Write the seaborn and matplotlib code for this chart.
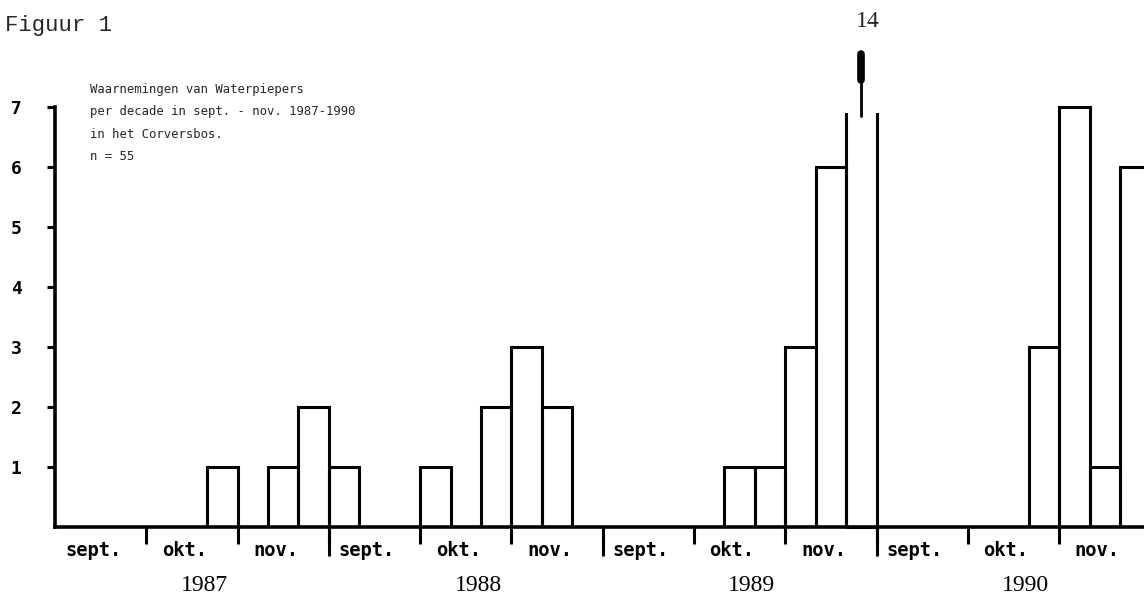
"""
Figuur 1: waarnemingen van Waterpiepers per decade (sept. - nov. 1987-1990),
Corversbos. Histogram met open staven, zoals in het getypte origineel.
"""

import matplotlib

matplotlib.use("Agg")
import matplotlib.pyplot as plt  # noqa: E402
import pandas as pd  # noqa: E402
import seaborn as sns  # noqa: E402
from matplotlib.patches import Rectangle  # noqa: E402

# --- data (aantal per decade: sept d1-d3, okt d1-d3, nov d1-d3) -----------
years = [1987, 1988, 1989, 1990]
months = ["sept.", "okt.", "nov."]
counts_1987 = [0, 0, 0, 0, 0, 1, 0, 1, 2]
counts_1988 = [1, 0, 0, 1, 0, 2, 3, 2, 0]
counts_1989 = [0, 0, 0, 0, 1, 1, 3, 6, 14]
counts_1990 = [0, 0, 0, 0, 0, 3, 7, 1, 6]
y_ticks = [1, 2, 3, 4, 5, 6, 7]
title_lines = [
    "Waarnemingen van Waterpiepers",
    "per decade in sept. - nov. 1987-1990",
    "in het Corversbos.",
    "n = 55",
]

rows = []
for year, counts in zip(years, [counts_1987, counts_1988, counts_1989, counts_1990]):
    for i, n in enumerate(counts):
        rows.append({"jaar": year, "maand": months[i // 3],
                     "decade": i % 3 + 1, "aantal": n})
df = pd.DataFrame(rows)
df["pos"] = range(len(df))

Y_MAX = 7.2      # as loopt tot 7, daarboven ruimte voor de afgebroken staaf
n_dec = len(df)
n_months = n_dec // 3

sns.set_style("ticks")
plt.rcParams["font.family"] = ["DejaVu Sans Mono", "DejaVu Sans"]

fig = plt.figure(figsize=(11.44, 6.04), dpi=100)
ax = fig.add_axes([0.0481, 0.1275, 0.9576, 0.7152])

sns.barplot(data=df, x="pos", y="aantal", fill=False, width=1.0,
            color="black", linewidth=2.2, errorbar=None, ax=ax)

ax.set_xlim(-0.5, n_dec - 0.5)
ax.set_ylim(0, Y_MAX)
ax.set_xlabel("")
ax.set_ylabel("")
sns.despine(ax=ax)
ax.spines["left"].set_bounds(0, 7)
for side in ("left", "bottom"):
    ax.spines[side].set_linewidth(2.6)
    ax.spines[side].set_color("black")

# y-as
ax.set_yticks(y_ticks)
ax.set_yticklabels([str(t) for t in y_ticks], fontweight="bold")
ax.tick_params(axis="y", length=6, width=2.2, pad=18, labelsize=13,
               colors="black")

# x-as: maandnamen in het midden, streepjes op de maandgrenzen
ax.set_xticks([3 * m + 1 - 0.25 for m in range(n_months)])
ax.set_xticklabels(months * len(years), fontweight="bold")
ax.set_xticks([3 * m - 0.5 for m in range(1, n_months)], minor=True)
ax.tick_params(axis="x", which="major", length=0, pad=10, labelsize=13.5,
               colors="black")
ax.tick_params(axis="x", which="minor", length=12, width=2.2, colors="black")

# langere streepjes op de jaargrenzen
ax.vlines([9 * k - 0.5 for k in range(1, len(years))], -0.066, 0,
          transform=ax.get_xaxis_transform(), colors="black", lw=2.2,
          clip_on=False)

for k, year in enumerate(years):
    ax.text(9 * k + 4.4, -0.135, str(year), transform=ax.get_xaxis_transform(),
            ha="center", va="center", fontsize=17, family="Liberation Serif",
            color="black")

# staaf buiten de schaal: afbreken en met pijl + waarde aangeven
for p in ax.patches:
    if p.get_height() > Y_MAX:
        x0, w = p.get_x(), p.get_width()
        p.set_clip_path(Rectangle((x0 - 0.3, -1), w + 0.6, 7.9,
                                  transform=ax.transData))
        xc = x0 + w / 2
        ax.plot([xc, xc], [6.85, 7.6], color="black", lw=2, clip_on=False)
        ax.plot([xc, xc], [7.45, 7.88], color="black", lw=5.5,
                solid_capstyle="round", clip_on=False)
        ax.text(xc + 0.2, 8.42, f"{p.get_height():.0f}", ha="center",
                va="center", fontsize=17, family="Liberation Serif",
                clip_on=False)

fig.text(5 / 1144, 1 - 25 / 604, "Figuur 1", family="Liberation Mono",
         fontsize=16, va="center", ha="left")
fig.text(90 / 1144, 1 - 83 / 604, "\n".join(title_lines), fontsize=8.8,
         va="top", ha="left", linespacing=1.95)

fig.savefig("out.png", dpi=100, facecolor="white")
plt.close(fig)
